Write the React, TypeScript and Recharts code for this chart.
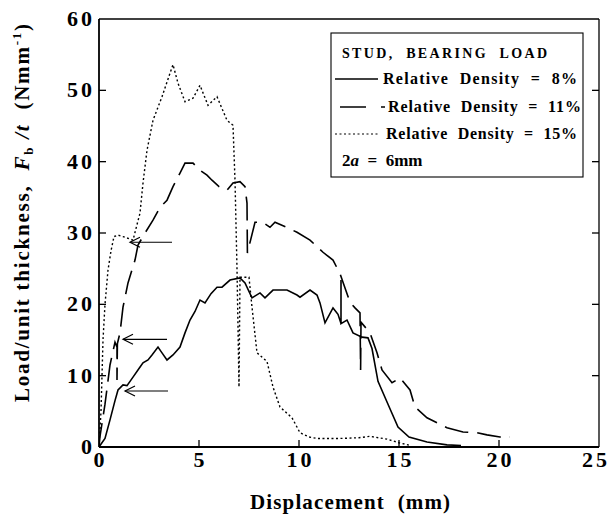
import { LineChart, Line, XAxis, YAxis, ReferenceLine, Customized } from 'recharts';

const FONT = "'Liberation Serif', 'Times New Roman', serif";

const xTicks = [0, 5, 10, 15, 20, 25];
const yTicks = [0, 10, 20, 30, 40, 50, 60];

// Relative density 8% (solid)
const rd8X = [0, 0.3, 0.55, 0.8, 0.95, 1.2, 1.4, 1.7, 2.0, 2.2, 2.45, 2.65, 2.95, 3.15, 3.4, 3.7, 4.05, 4.3, 4.55, 4.8, 5.05, 5.3, 5.6, 5.9, 6.15, 6.55, 7.05, 7.3, 7.65, 8.05, 8.3, 8.7, 9.4, 9.9, 10.05, 10.55, 10.9, 11.05, 11.3, 11.7, 11.95, 12.1, 12.1, 12.1, 12.4, 12.7, 13.15, 13.45, 13.65, 13.95, 14.45, 14.95, 15.5, 16.4, 17.4, 18.1];
const rd8Y = [0, 1.2, 3.8, 6.5, 8.0, 8.7, 8.6, 9.8, 11.0, 11.8, 12.2, 12.9, 14.0, 13.2, 12.2, 12.9, 14.0, 16.0, 17.8, 19.0, 20.6, 20.2, 21.5, 22.4, 22.4, 23.4, 23.7, 23.0, 20.9, 21.6, 20.9, 22.0, 22.0, 21.3, 21.0, 22.0, 21.3, 20.2, 17.4, 19.5, 18.6, 17.3, 23.4, 17.3, 17.8, 16.0, 15.4, 15.3, 13.8, 9.2, 6.0, 2.8, 1.4, 0.7, 0.3, 0.2];

// Relative density 11% (dashed)
const rd11X = [0, 0.05, 0.3, 0.55, 0.8, 0.9, 0.9, 0.92, 1.05, 1.2, 1.45, 1.8, 1.95, 2.3, 2.7, 3.05, 3.4, 3.7, 4.05, 4.3, 4.7, 5.05, 5.4, 5.65, 6.0, 6.4, 6.7, 7.05, 7.3, 7.4, 7.42, 7.8, 8.2, 8.55, 8.8, 9.45, 9.9, 10.55, 11.2, 11.7, 12.05, 12.2, 12.55, 12.8, 13.05, 13.08, 13.1, 13.55, 13.9, 14.15, 14.65, 15.05, 15.55, 15.8, 16.4, 17.4, 18.2, 18.9, 19.4, 20.05, 20.55];
const rd11Y = [0, 1.5, 6.0, 11.5, 14.7, 14.0, 9.4, 14.5, 16.0, 19.6, 23.0, 26.2, 28.3, 30.0, 31.8, 33.6, 34.6, 36.5, 38.4, 39.8, 39.8, 38.8, 38.1, 37.4, 36.5, 36.0, 37.0, 37.2, 36.5, 34.2, 27.2, 31.5, 31.5, 30.8, 31.5, 30.7, 30.1, 29.0, 27.3, 26.2, 24.3, 23.1, 20.3, 19.5, 18.8, 10.8, 17.5, 16.0, 13.2, 10.8, 9.0, 9.7, 8.0, 5.6, 4.1, 2.7, 2.1, 2.0, 1.7, 1.4, 1.4];

// Relative density 15% (dotted)
const rd15X = [0, 0.1, 0.2, 0.3, 0.45, 0.6, 0.75, 0.95, 1.2, 1.4, 1.7, 2.05, 2.2, 2.4, 2.7, 3.15, 3.55, 3.7, 3.95, 4.3, 4.7, 5.05, 5.45, 5.9, 6.4, 6.7, 6.8, 6.9, 7.0, 7.05, 7.5, 7.65, 7.9, 8.4, 8.7, 9.05, 9.65, 10.05, 10.5, 10.9, 12.05, 13.0, 13.55, 14.4, 15.0, 15.6];
const rd15Y = [0, 5, 15, 20, 24.8, 27.5, 29.5, 29.7, 29.5, 29.3, 29.0, 32.8, 37.0, 41.6, 45.8, 49.1, 52.4, 53.6, 51.0, 48.4, 48.9, 50.7, 47.9, 49.1, 45.8, 45.1, 37.4, 25.0, 8.4, 23.8, 23.8, 19.6, 13.2, 12.0, 8.4, 5.6, 4.1, 2.0, 1.4, 1.2, 1.2, 1.3, 1.5, 1.1, 0.6, 0.2];

// arrows marking the first load drop
const arrowY = [28.7, 15.1, 7.85];
const arrowTail = [3.65, 3.4, 3.45];
const arrowTip = [1.55, 1.2, 1.3];

const legendLabels = ['Relative  Density  =  8%', 'Relative  Density  =  11%', 'Relative  Density  =  15%'];

const zip = (xs: number[], ys: number[]) => xs.map((x, i) => ({ x, y: ys[i] }));
const rd8 = zip(rd8X, rd8Y);
const rd11 = zip(rd11X, rd11Y);
const rd15 = zip(rd15X, rd15Y);

const DASH = '24 9';
const DOT = '2 2.5';

const tickText = { fontFamily: FONT, fontWeight: 'bold', fontSize: 22, letterSpacing: 3, fill: '#000' } as const;

const BottomTick = ({ x, y, payload }: any) => (
  <g>
    {payload.value !== 0 && payload.value !== 25 && (
      <line x1={x} x2={x} y1={y} y2={y - 7} stroke="#000" strokeWidth={1.3} />
    )}
    <text x={payload.value === 25 ? x - 3 : x + 1.5} y={y + 20} textAnchor="middle" {...tickText}>{payload.value}</text>
  </g>
);

const LeftTick = ({ x, y, payload }: any) => (
  <g>
    {payload.value !== 0 && payload.value !== 60 && (
      <line x1={x} x2={x + 7} y1={y} y2={y} stroke="#000" strokeWidth={1.3} />
    )}
    <text x={x - 4} y={y + 7} textAnchor="end" {...tickText}>{payload.value}</text>
  </g>
);

const TopTick = ({ x, y, payload }: any) =>
  payload.value === 0 || payload.value === 25 ? <g /> : (
    <line x1={x} x2={x} y1={y} y2={y + 7} stroke="#000" strokeWidth={1.3} />
  );

const RightTick = ({ x, y, payload }: any) =>
  payload.value === 0 || payload.value === 60 ? <g /> : (
    <line x1={x} x2={x - 7} y1={y} y2={y} stroke="#000" strokeWidth={1.3} />
  );

const Arrow = (props: any) => {
  const { x1, y1, x2, y2 } = props;
  return (
    <g stroke="#000" strokeWidth={1.2} fill="none">
      <line x1={x1} y1={y1} x2={x2} y2={y2} />
      <polyline points={`${x2 + 10},${y2 - 5} ${x2},${y2} ${x2 + 10},${y2 + 5}`} />
    </g>
  );
};

const Annotations = () => {
  const bold = { fontFamily: FONT, fontWeight: 'bold', fill: '#000', style: { whiteSpace: 'pre' } } as any;
  const rows = [
    { y: 79, x1: 335, x2: 378, dash: undefined, tx: 383, len: 194 },
    { y: 107, x1: 340, x2: 366, dash: undefined, tx: 388, len: 193 },
    { y: 134, x1: 335, x2: 380, dash: DOT, tx: 386, len: 191 },
  ];
  return (
    <g>
      <text transform="rotate(-90)" x={-213} y={29} textAnchor="middle" fontSize={21} textLength={378} lengthAdjust="spacing" {...bold}>
        {'Load/unit thickness,  '}
        <tspan fontStyle="italic">F</tspan>
        <tspan fontSize={13} dy={4}>b</tspan>
        <tspan dy={-4}>{' '}</tspan>
        <tspan fontStyle="italic">/t</tspan>
        {'  (Nmm'}
        <tspan fontSize={13} dy={-8}>-1</tspan>
        <tspan dy={8}>)</tspan>
      </text>
      <text x={350} y={509} textAnchor="middle" fontSize={21} textLength={200} lengthAdjust="spacing" {...bold}>
        {'Displacement  (mm)'}
      </text>
      <rect x={331} y={33} width={252} height={144} fill="#fff" stroke="#000" strokeWidth={1.1} />
      <text x={342} y={58} fontSize={14} textLength={205} lengthAdjust="spacing" {...bold}>{'STUD,  BEARING  LOAD'}</text>
      {rows.map((r, i) => (
        <g key={i}>
          <line x1={r.x1} x2={r.x2} y1={r.y} y2={r.y} stroke="#000" strokeWidth={i === 2 ? 1.2 : 1.5} strokeDasharray={r.dash} />
          {i === 1 && <line x1={381} x2={385} y1={r.y} y2={r.y} stroke="#000" strokeWidth={1.5} />}
          <text x={r.tx} y={r.y + 5} fontSize={16} textLength={r.len} lengthAdjust="spacing" {...bold}>{legendLabels[i]}</text>
        </g>
      ))}
      <text x={342} y={166} fontSize={17} {...bold}>
        {'2'}
        <tspan fontStyle="italic">a</tspan>
        {'  =  6mm'}
      </text>
    </g>
  );
};

export default function App() {
  return (
    <div style={{ position: 'absolute', left: 0, top: 0, width: 611, height: 522, background: '#fff' }}>
      <LineChart width={611} height={522} margin={{ top: 18, right: 11, bottom: 74, left: 98 }}>
        <XAxis
          xAxisId={0}
          type="number"
          dataKey="x"
          domain={[0, 25]}
          ticks={xTicks}
          allowDataOverflow
          height={1}
          tickSize={0}
          tickMargin={0}
          tick={<BottomTick />}
          axisLine={{ stroke: '#000', strokeWidth: 1.8 }}
          tickLine={false}
        />
        <XAxis
          xAxisId="top"
          orientation="top"
          type="number"
          domain={[0, 25]}
          ticks={xTicks}
          allowDataOverflow
          height={1}
          tickSize={0}
          tickMargin={0}
          tick={<TopTick />}
          axisLine={{ stroke: '#000', strokeWidth: 1.3 }}
          tickLine={false}
        />
        <YAxis
          yAxisId={0}
          type="number"
          domain={[0, 60]}
          ticks={yTicks}
          allowDataOverflow
          width={1}
          tickSize={0}
          tickMargin={0}
          tick={<LeftTick />}
          axisLine={{ stroke: '#000', strokeWidth: 1.8 }}
          tickLine={false}
        />
        <YAxis
          yAxisId="right"
          orientation="right"
          type="number"
          domain={[0, 60]}
          ticks={yTicks}
          allowDataOverflow
          width={1}
          tickSize={0}
          tickMargin={0}
          tick={<RightTick />}
          axisLine={{ stroke: '#000', strokeWidth: 1.3 }}
          tickLine={false}
        />
        <Line data={rd15} dataKey="y" type="linear" stroke="#000" strokeWidth={1.4} strokeDasharray={DOT} dot={false} isAnimationActive={false} />
        <Line data={rd11} dataKey="y" type="linear" stroke="#000" strokeWidth={1.6} strokeDasharray={DASH} dot={false} isAnimationActive={false} />
        <Line data={rd8} dataKey="y" type="linear" stroke="#000" strokeWidth={1.6} dot={false} isAnimationActive={false} />
        {arrowY.map((y, i) => (
          <ReferenceLine
            key={i}
            segment={[{ x: arrowTail[i], y }, { x: arrowTip[i], y }]}
            shape={<Arrow />}
          />
        ))}
        <Customized component={<Annotations />} />
      </LineChart>
    </div>
  );
}
